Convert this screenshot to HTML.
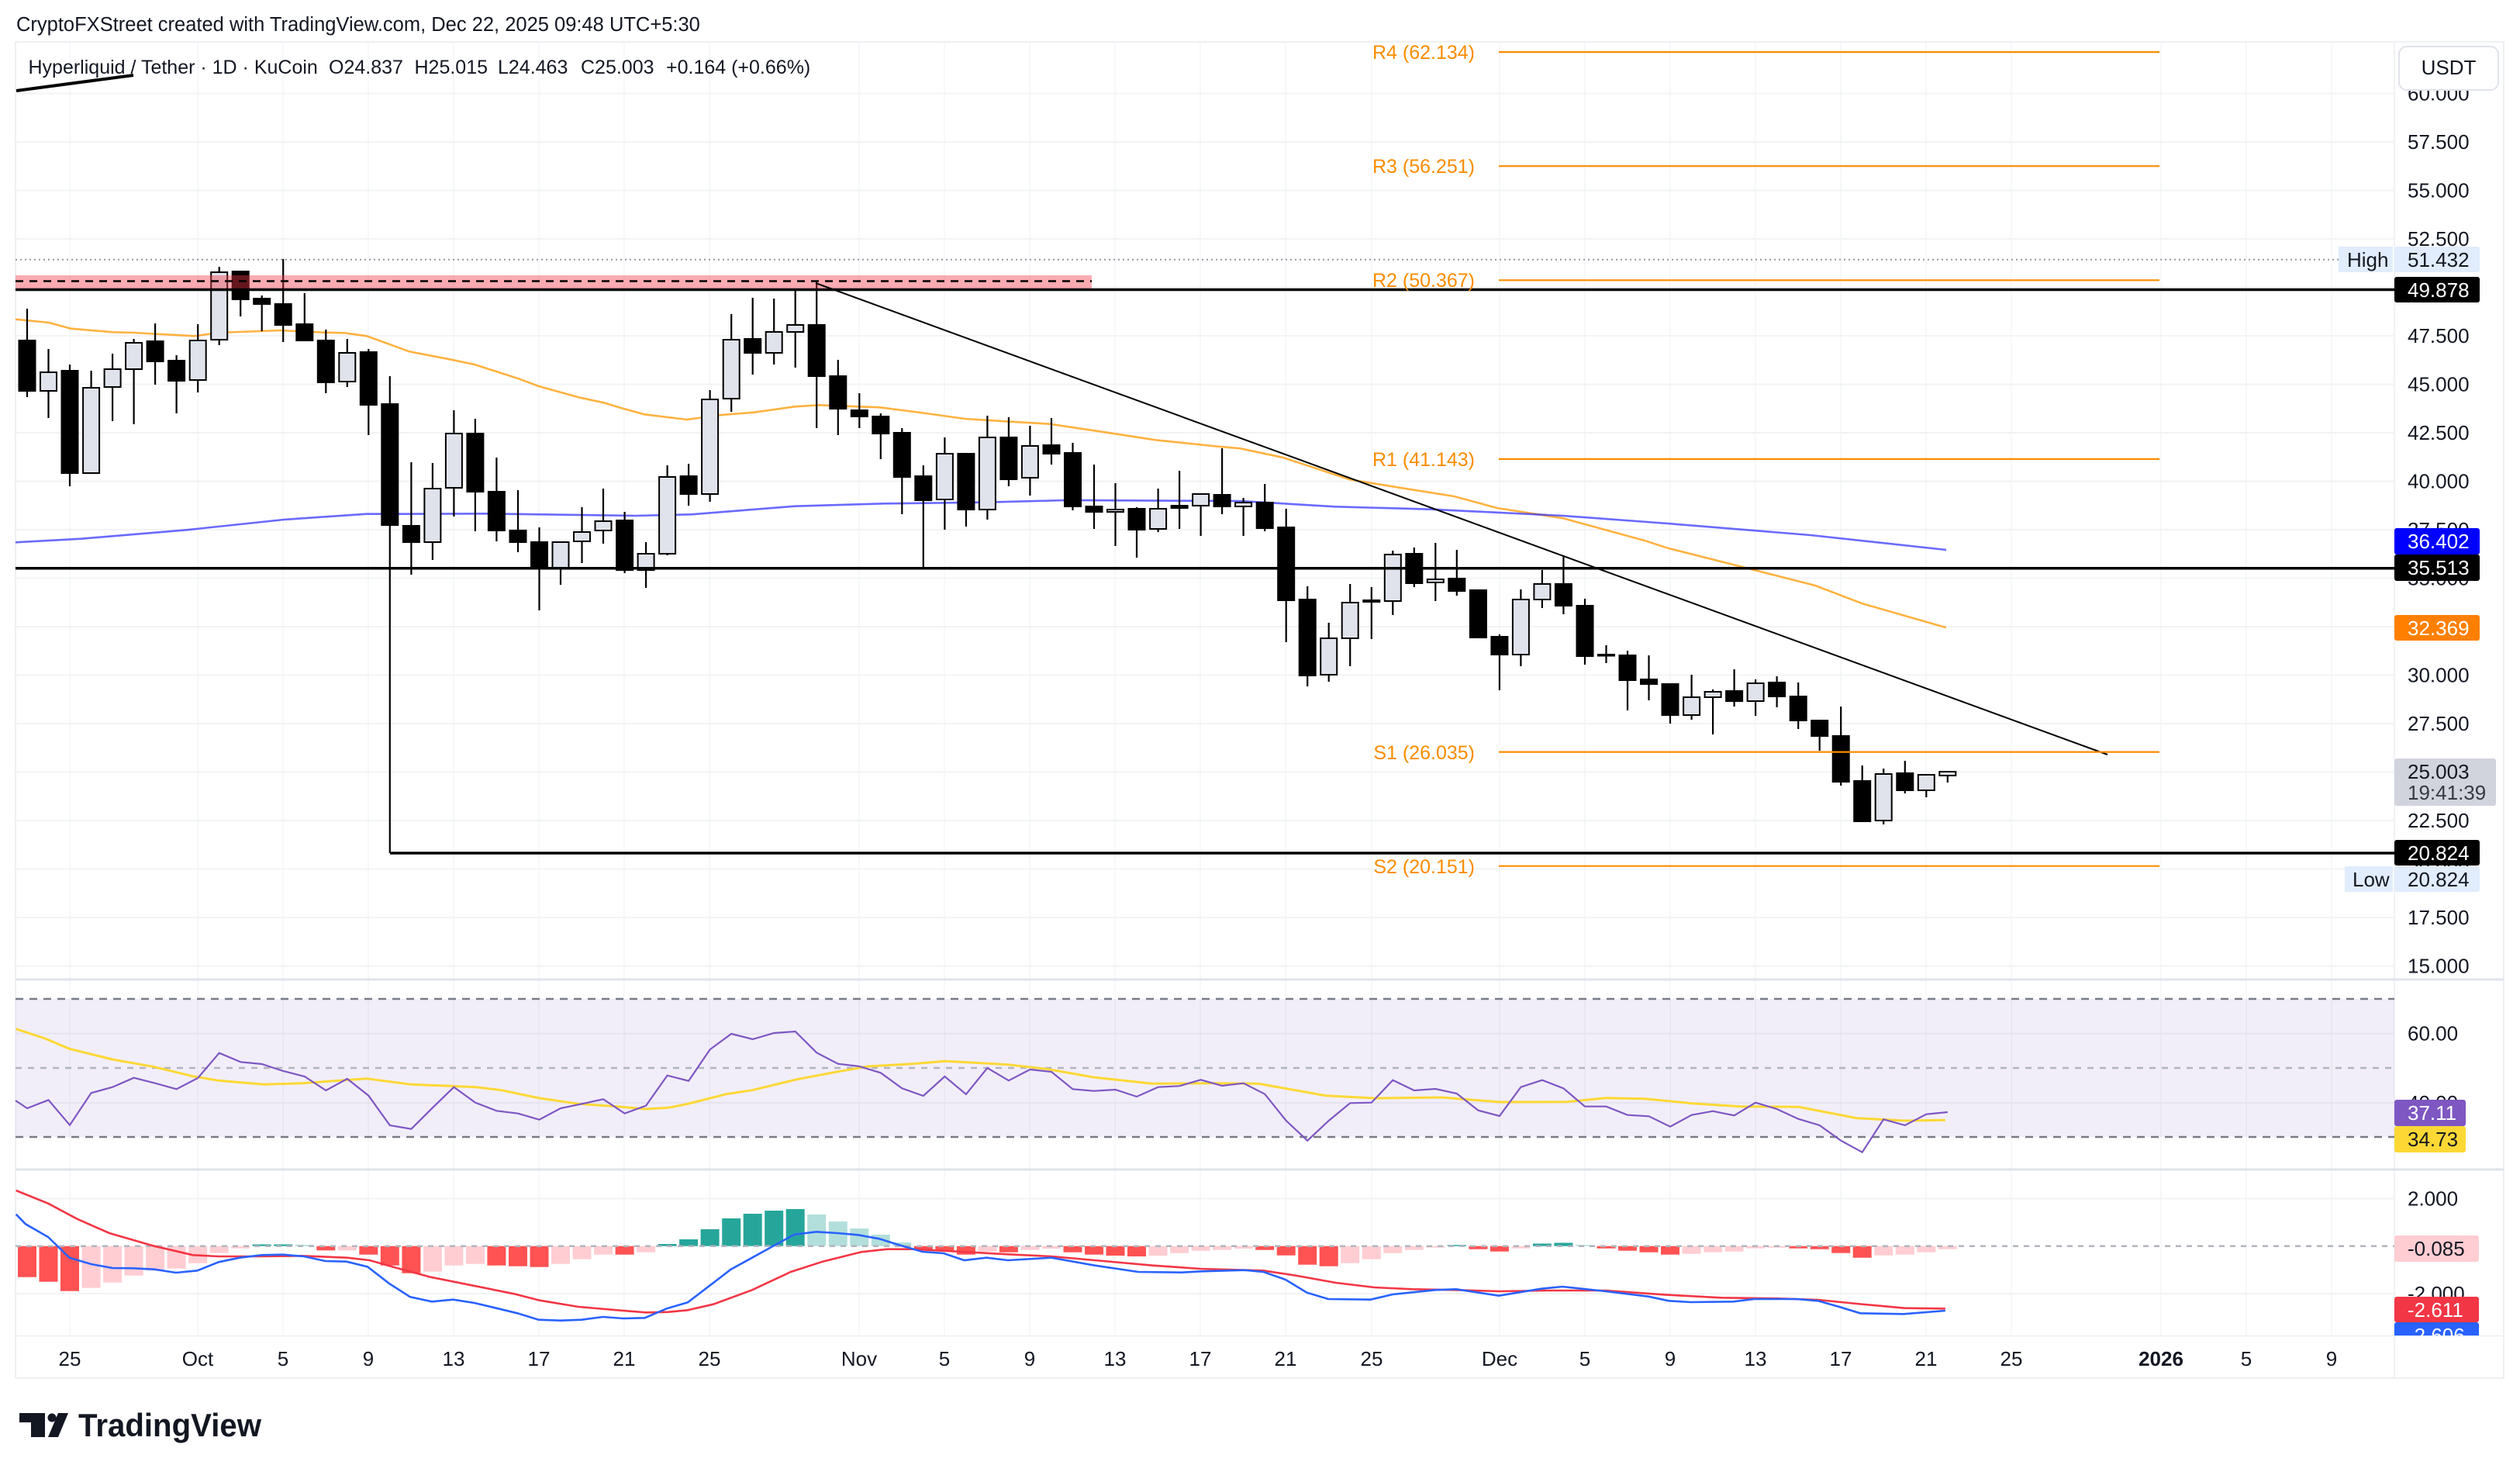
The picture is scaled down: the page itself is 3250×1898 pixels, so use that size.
<!DOCTYPE html>
<html><head><meta charset="utf-8"><style>
html,body{margin:0;padding:0;background:#fff;}
svg{display:block;}
text{font-family:"Liberation Sans",Arial,sans-serif;}
</style></head><body>
<svg width="3250" height="1898" viewBox="0 0 3250 1898" xmlns="http://www.w3.org/2000/svg">
<rect x="0" y="0" width="3250" height="1898" fill="#fff"/>
<!-- header -->
<text x="21" y="40" font-size="25.5" fill="#131722">CryptoFXStreet created with TradingView.com, Dec 22, 2025 09:48 UTC+5:30</text>
<!-- frame -->
<rect x="20" y="54" width="3209" height="1723" fill="none" stroke="#eef0f3" stroke-width="2"/>
<!-- vertical grid -->
<g stroke="#f4f5f7" stroke-width="1.5">
<path d="M90 55V1722M255 55V1722M365 55V1722M475 55V1722M585 55V1722M695 55V1722M805 55V1722M915 55V1722M1108 55V1722M1218 55V1722M1328 55V1722M1438 55V1722M1548 55V1722M1658 55V1722M1769 55V1722M1934 55V1722M2044 55V1722M2154 55V1722M2264 55V1722M2374 55V1722M2484 55V1722M2594 55V1722M2787 55V1722M2897 55V1722M3007 55V1722"/>
</g>
<!-- horizontal grid main -->
<g stroke="#f2f3f5" stroke-width="2">
<path d="M20 120.5H3088M20 183H3088M20 245.5H3088M20 308H3088M20 370.5H3088M20 433H3088M20 495.5H3088M20 558H3088M20 620.5H3088M20 683H3088M20 745.5H3088M20 808H3088M20 870.5H3088M20 933H3088M20 995.5H3088M20 1058H3088M20 1120.5H3088M20 1183H3088M20 1245.5H3088"/>
<path d="M20 1332.7H3088M20 1422H3088M20 1545.5H3088M20 1668H3088"/>
</g>
<!-- axis separators -->
<path d="M3088 54V1777" stroke="#f0f2f5" stroke-width="2"/>
<path d="M20 1722.5H3229" stroke="#f0f2f5" stroke-width="2"/>
<path d="M20 1263H3229M20 1508H3229" stroke="#e0e3eb" stroke-width="3"/>

<!-- legend -->
<g font-size="25" fill="#131722">
<text x="36.5" y="95">Hyperliquid / Tether · 1D · KuCoin</text>
<text x="424" y="95">O24.837</text>
<text x="534.5" y="95">H25.015</text>
<text x="642" y="95">L24.463</text>
<text x="749" y="95">C25.003</text>
<text x="859" y="95">+0.164 (+0.66%)</text>
</g>
<path d="M21 117L172 97" stroke="#000" stroke-width="4"/>

<!-- moving averages -->
<polyline fill="none" stroke="#ff9800" stroke-opacity="0.75" stroke-width="2.6" points="20,411.7 63,416 91.5,423.7 146,428.3 172.6,429 251,433.3 282,429 361,426 418,428.7 444.5,429.3 473,433.3 528,453.3 580,463.3 612,470 669,488.3 695.6,498.3 748,512.7 779,519.3 800,525.7 831,534.3 886,541 931,535 972.6,531.7 1025,524.3 1056,522.3 1135,525.3 1187,532 1244.6,540 1297,543.3 1354,546.7 1427.6,557.7 1490,567.3 1563.5,575 1600,578.3 1655,590 1741,618.3 1802,628.3 1875.5,640 1930.6,655 2016,668.3 2120,696.7 2151,706.7 2243,730 2341,755 2402,778.3 2510,809.3"/>
<polyline fill="none" stroke="#1a1aff" stroke-opacity="0.65" stroke-width="2.6" points="20,699.3 104.6,694.7 240.6,683.3 366,670 473,662.7 523,662.7 627.6,662.3 820,665 891.5,663.3 1025,652.7 1140,649.3 1270.7,647.7 1375,645 1600,646 1722,653.3 1845,656.7 2016,665 2151,675 2335,690 2510,709"/>

<!-- High dotted -->
<path d="M20 334.7H3016" stroke="#9598a1" stroke-width="2" stroke-dasharray="2 4"/>

<!-- candle wicks -->
<g stroke="#000" stroke-width="2.2">
<path d="M35 398V512M62.5 450V539M90 470V627M117.6 478V610M145.1 456V543M172.6 437V547M200.1 417V496M227.6 458V533M255.2 418V506M282.7 344V445M310.2 349V408M337.7 381V427M365.2 334V441M392.8 378V439M420.3 425V507M447.8 437V499M475.3 450V561M502.8 485V1100M530.4 596V741M557.9 597V722M585.4 529V666M612.9 540V685M640.4 590V698M668 632V712M695.5 680V787M723 698V754M750.5 654V726M778 630V701M805.6 660V739"/>
<path d="M833.1 699V758M860.6 600V716M888.1 598V652M915.6 503V647M943.2 405V531M970.7 384V483M998.2 385V470M1025.7 375V474M1053.2 363V552M1080.8 464V561M1108.3 507V552M1135.8 533V592M1163.3 552V663M1190.8 600V733M1218.4 564V683M1245.9 585V679M1273.4 536V670M1300.9 538V627M1328.4 549V639M1356 539V599M1383.5 571V658M1411 599V682M1438.5 623V704M1466 654V719M1493.6 630V686M1521.1 607V682M1548.6 637V691M1576.1 578V663M1603.6 642V691"/>
<path d="M1631.2 624V685M1658.7 656V828M1686.2 756V885M1713.7 803V879M1741.2 753V859M1768.8 757V824M1796.3 710V793M1823.8 706V757M1851.3 700V775M1878.8 709V768M1906.4 761V823M1933.9 818V890M1961.4 760V859M1988.9 735V784M2016.4 716V792M2044 772V857M2071.5 832V855M2099 839V916M2126.5 845V903M2154 881V933M2181.6 870V928M2209.1 889V947M2236.6 863V911M2264.1 876V923M2291.6 872V912M2319.2 880V940M2346.7 928V968M2374.2 911V1013M2401.7 987V1059M2429.2 991V1063M2456.8 981V1023M2484.3 999V1028M2511.8 995V1009"/>
</g>
<!-- candle bodies -->
<g stroke="#000" stroke-width="2">
<rect x="24.5" y="439" width="21" height="65" fill="#000"/>
<rect x="52" y="480" width="21" height="24" fill="#e0e3eb"/>
<rect x="79.5" y="478" width="21" height="132" fill="#000"/>
<rect x="107.1" y="500" width="21" height="110" fill="#e0e3eb"/>
<rect x="134.6" y="476" width="21" height="23" fill="#e0e3eb"/>
<rect x="162.1" y="442" width="21" height="34" fill="#e0e3eb"/>
<rect x="189.6" y="440" width="21" height="26" fill="#000"/>
<rect x="217.1" y="465" width="21" height="26" fill="#000"/>
<rect x="244.7" y="439" width="21" height="51" fill="#e0e3eb"/>
<rect x="272.2" y="351" width="21" height="87" fill="#e0e3eb"/>
<rect x="299.7" y="350" width="21" height="36" fill="#000"/>
<rect x="327.2" y="385" width="21" height="7" fill="#000"/>
<rect x="354.7" y="392" width="21" height="27" fill="#000"/>
<rect x="382.3" y="418" width="21" height="21" fill="#000"/>
<rect x="409.8" y="439" width="21" height="54" fill="#000"/>
<rect x="437.3" y="455" width="21" height="37" fill="#e0e3eb"/>
<rect x="464.8" y="454" width="21" height="68" fill="#000"/>
<rect x="492.3" y="521" width="21" height="156" fill="#000"/>
<rect x="519.9" y="678" width="21" height="21" fill="#000"/>
<rect x="547.4" y="630" width="21" height="69" fill="#e0e3eb"/>
<rect x="574.9" y="559" width="21" height="70" fill="#e0e3eb"/>
<rect x="602.4" y="559" width="21" height="75" fill="#000"/>
<rect x="629.9" y="634" width="21" height="50" fill="#000"/>
<rect x="657.5" y="684" width="21" height="15" fill="#000"/>
<rect x="685" y="699" width="21" height="33" fill="#000"/>
<rect x="712.5" y="699" width="21" height="33" fill="#e0e3eb"/>
<rect x="740" y="686" width="21" height="12" fill="#e0e3eb"/>
<rect x="767.5" y="672" width="21" height="12" fill="#e0e3eb"/>
<rect x="795.1" y="671" width="21" height="64" fill="#000"/>
<rect x="822.6" y="714" width="21" height="21" fill="#e0e3eb"/>
<rect x="850.1" y="615" width="21" height="99" fill="#e0e3eb"/>
<rect x="877.6" y="614" width="21" height="23" fill="#000"/>
<rect x="905.1" y="515" width="21" height="122" fill="#e0e3eb"/>
<rect x="932.7" y="438" width="21" height="76" fill="#e0e3eb"/>
<rect x="960.2" y="437" width="21" height="18" fill="#000"/>
<rect x="987.7" y="428" width="21" height="27" fill="#e0e3eb"/>
<rect x="1015.2" y="419" width="21" height="9" fill="#e0e3eb"/>
<rect x="1042.7" y="419" width="21" height="66" fill="#000"/>
<rect x="1070.3" y="485" width="21" height="42" fill="#000"/>
<rect x="1097.8" y="529" width="21" height="8" fill="#000"/>
<rect x="1125.3" y="537" width="21" height="22" fill="#000"/>
<rect x="1152.8" y="558" width="21" height="57" fill="#000"/>
<rect x="1180.3" y="614" width="21" height="31" fill="#000"/>
<rect x="1207.9" y="585" width="21" height="59" fill="#e0e3eb"/>
<rect x="1235.4" y="585" width="21" height="72" fill="#000"/>
<rect x="1262.9" y="564" width="21" height="93" fill="#e0e3eb"/>
<rect x="1290.4" y="564" width="21" height="54" fill="#000"/>
<rect x="1317.9" y="575" width="21" height="41" fill="#e0e3eb"/>
<rect x="1345.5" y="574" width="21" height="11" fill="#000"/>
<rect x="1373" y="584" width="21" height="69" fill="#000"/>
<rect x="1400.5" y="653" width="21" height="7" fill="#000"/>
<rect x="1428" y="657" width="21" height="3" fill="#e0e3eb"/>
<rect x="1455.5" y="656" width="21" height="27" fill="#000"/>
<rect x="1483.1" y="656" width="21" height="26" fill="#e0e3eb"/>
<rect x="1510.6" y="652" width="21" height="3" fill="#000"/>
<rect x="1538.1" y="637" width="21" height="15" fill="#e0e3eb"/>
<rect x="1565.6" y="638" width="21" height="15" fill="#000"/>
<rect x="1593.1" y="648" width="21" height="5" fill="#e0e3eb"/>
<rect x="1620.7" y="648" width="21" height="33" fill="#000"/>
<rect x="1648.2" y="680" width="21" height="94" fill="#000"/>
<rect x="1675.7" y="773" width="21" height="98" fill="#000"/>
<rect x="1703.2" y="823" width="21" height="47" fill="#e0e3eb"/>
<rect x="1730.7" y="777" width="21" height="46" fill="#e0e3eb"/>
<rect x="1758.3" y="774" width="21" height="2" fill="#000"/>
<rect x="1785.8" y="715" width="21" height="60" fill="#e0e3eb"/>
<rect x="1813.3" y="714" width="21" height="38" fill="#000"/>
<rect x="1840.8" y="747" width="21" height="4" fill="#e0e3eb"/>
<rect x="1868.3" y="746" width="21" height="16" fill="#000"/>
<rect x="1895.9" y="761" width="21" height="61" fill="#000"/>
<rect x="1923.4" y="821" width="21" height="23" fill="#000"/>
<rect x="1950.9" y="773" width="21" height="71" fill="#e0e3eb"/>
<rect x="1978.4" y="753" width="21" height="20" fill="#e0e3eb"/>
<rect x="2005.9" y="753" width="21" height="28" fill="#000"/>
<rect x="2033.5" y="781" width="21" height="65" fill="#000"/>
<rect x="2061" y="844" width="21" height="1.5" fill="#000"/>
<rect x="2088.5" y="845" width="21" height="32" fill="#000"/>
<rect x="2116" y="876" width="21" height="6" fill="#000"/>
<rect x="2143.5" y="882" width="21" height="40" fill="#000"/>
<rect x="2171.1" y="899" width="21" height="23" fill="#e0e3eb"/>
<rect x="2198.6" y="892" width="21" height="7" fill="#e0e3eb"/>
<rect x="2226.1" y="891" width="21" height="13" fill="#000"/>
<rect x="2253.6" y="881" width="21" height="23" fill="#e0e3eb"/>
<rect x="2281.1" y="880" width="21" height="18" fill="#000"/>
<rect x="2308.7" y="898" width="21" height="31" fill="#000"/>
<rect x="2336.2" y="929" width="21" height="20" fill="#000"/>
<rect x="2363.7" y="949" width="21" height="59" fill="#000"/>
<rect x="2391.2" y="1007" width="21" height="52" fill="#000"/>
<rect x="2418.7" y="998" width="21" height="60" fill="#e0e3eb"/>
<rect x="2446.3" y="997" width="21" height="22" fill="#000"/>
<rect x="2473.8" y="999" width="21" height="20" fill="#e0e3eb"/>
<rect x="2501.3" y="995" width="21" height="5" fill="#e0e3eb"/>
</g>

<!-- pink zone -->
<rect x="20" y="355" width="1388" height="17" fill="rgb(242,54,69)" fill-opacity="0.42"/>
<path d="M20 362.5H1408" stroke="#000" stroke-width="2.5" stroke-dasharray="10 8"/>
<!-- drawn horizontal lines -->
<path d="M20 373.5H3088" stroke="#000" stroke-width="3.5"/>
<path d="M20 732.7H3088" stroke="#000" stroke-width="3.5"/>
<path d="M503 1100H3088" stroke="#000" stroke-width="3.5"/>
<!-- trendline -->
<path d="M1052 365L2718 973" stroke="#000" stroke-width="2"/>

<!-- pivots -->
<g stroke="#fb8c00" stroke-width="2.2">
<path d="M1933 67.1H2785M1933 214.2H2785M1933 361.3H2785M1933 591.9H2785M1933 969.6H2785M1933 1116.7H2785"/>
</g>
<g font-size="25" fill="#fb8c00" text-anchor="end">
<text x="1902" y="76">R4 (62.134)</text>
<text x="1902" y="223">R3 (56.251)</text>
<text x="1902" y="370">R2 (50.367)</text>
<text x="1902" y="601">R1 (41.143)</text>
<text x="1902" y="979">S1 (26.035)</text>
<text x="1902" y="1126">S2 (20.151)</text>
</g>

<!-- RSI panel -->
<rect x="20" y="1288" width="3068" height="178" fill="#7e57c2" fill-opacity="0.1"/>
<path d="M20 1288H3088M20 1466H3088" stroke="#787b86" stroke-width="2.5" stroke-dasharray="10 8"/>
<path d="M20 1377H3088" stroke="#b2b5be" stroke-width="2.5" stroke-dasharray="8 8"/>
<polyline fill="none" stroke="#fdd835" stroke-width="3" points="20.7,1326.7 58,1339 89.5,1352.3 145,1366 199,1375.7 248.7,1387.7 282,1393.3 340,1398.3 389.6,1396.7 472.5,1390.7 530.6,1398.3 580,1400.3 613.5,1401.7 646.6,1405.7 696,1416 746,1423.3 796,1426.7 833,1430 862,1428.3 887,1423.3 937,1410.7 970,1405.7 1028,1391.7 1077.7,1382.3 1119,1375 1177,1371.7 1218.6,1368.3 1252,1370 1300,1372.7 1349.7,1378.3 1412,1389.3 1486.5,1397.3 1561,1396.7 1623,1397.3 1710,1412.7 1772.6,1416 1859.6,1415 1934,1421 2021,1420.7 2071,1415.7 2120.8,1416.7 2183,1422.7 2245,1426.7 2320,1427.3 2394.4,1441.7 2456.5,1445 2508.8,1444.3"/>
<polyline fill="none" stroke="#7e57c2" stroke-width="2.2" points="20,1419 35,1429 62.5,1418.3 90,1450.7 117.6,1409.3 145.1,1401.7 172.6,1389.7 200.1,1396.7 227.6,1404.3 255.2,1390 282.7,1357.7 310.2,1369.3 337.7,1372 365.2,1381 392.8,1388 420.3,1406 447.8,1391 475.3,1412.7 502.8,1451 530.4,1455.7 557.9,1428.3 585.4,1401.7 612.9,1421.7 640.4,1432.3 668,1435.7 695.5,1443.7 723,1429 750.5,1423.3 778,1417.3 805.6,1435.7 833.1,1425.7 860.6,1386.7 888.1,1393.7 915.6,1353.3 943.2,1333 970.7,1340 998.2,1332 1025.7,1330 1053.2,1357.3 1080.8,1371.7 1108.3,1375 1135.8,1383.3 1163.3,1403.3 1190.8,1413 1218.4,1388 1245.9,1411 1273.4,1377 1300.9,1393.3 1328.4,1379 1356,1382 1383.5,1404.3 1411,1406.7 1438.5,1405 1466,1414 1493.6,1401.7 1521.1,1400.3 1548.6,1392.3 1576.1,1400 1603.6,1396.7 1631.2,1410.7 1658.7,1445 1686.2,1470.7 1713.7,1445 1741.2,1422.3 1768.8,1421.7 1796.3,1392.7 1823.8,1406 1851.3,1404 1878.8,1410 1906.4,1431.7 1933.9,1439 1961.4,1401.7 1988.9,1392.7 2016.4,1403.3 2044,1426.7 2071.5,1426.7 2099,1437.7 2126.5,1439.3 2154,1452.7 2181.6,1437.7 2209.1,1432.7 2236.6,1438.3 2264.1,1421.7 2291.6,1430 2319.2,1442.7 2346.7,1451 2374.2,1470.7 2401.7,1485.7 2429.2,1443.3 2456.8,1451 2484.3,1436.7 2511.8,1434"/>

<!-- MACD histogram -->
<g>
<rect x="23" y="1606.7" width="24" height="40" fill="#ff5252"/>
<rect x="50.5" y="1606.7" width="24" height="46" fill="#ff5252"/>
<rect x="78" y="1606.7" width="24" height="58" fill="#ff5252"/>
<rect x="105.6" y="1606.7" width="24" height="54" fill="#ffcdd2"/>
<rect x="133.1" y="1606.7" width="24" height="47" fill="#ffcdd2"/>
<rect x="160.6" y="1606.7" width="24" height="38" fill="#ffcdd2"/>
<rect x="188.1" y="1606.7" width="24" height="31.6" fill="#ffcdd2"/>
<rect x="215.6" y="1606.7" width="24" height="29" fill="#ffcdd2"/>
<rect x="243.2" y="1606.7" width="24" height="22" fill="#ffcdd2"/>
<rect x="270.7" y="1606.7" width="24" height="9" fill="#ffcdd2"/>
<rect x="298.2" y="1606.7" width="24" height="3" fill="#ffcdd2"/>
<rect x="325.7" y="1604.5" width="24" height="2.2" fill="#26a69a"/>
<rect x="353.2" y="1604.5" width="24" height="2.2" fill="#26a69a"/>
<rect x="380.8" y="1605" width="24" height="1.7" fill="#b2dfdb"/>
<rect x="408.3" y="1606.7" width="24" height="5.6" fill="#ff5252"/>
<rect x="435.8" y="1606.7" width="24" height="5.6" fill="#ffcdd2"/>
<rect x="463.3" y="1606.7" width="24" height="11" fill="#ff5252"/>
<rect x="490.8" y="1606.7" width="24" height="25" fill="#ff5252"/>
<rect x="518.4" y="1606.7" width="24" height="35" fill="#ff5252"/>
<rect x="545.9" y="1606.7" width="24" height="33" fill="#ffcdd2"/>
<rect x="573.4" y="1606.7" width="24" height="25" fill="#ffcdd2"/>
<rect x="600.9" y="1606.7" width="24" height="23" fill="#ffcdd2"/>
<rect x="628.4" y="1606.7" width="24" height="25" fill="#ff5252"/>
<rect x="656" y="1606.7" width="24" height="26" fill="#ff5252"/>
<rect x="683.5" y="1606.7" width="24" height="27" fill="#ff5252"/>
<rect x="711" y="1606.7" width="24" height="23" fill="#ffcdd2"/>
<rect x="738.5" y="1606.7" width="24" height="17" fill="#ffcdd2"/>
<rect x="766" y="1606.7" width="24" height="11" fill="#ffcdd2"/>
<rect x="793.6" y="1606.7" width="24" height="11" fill="#ff5252"/>
<rect x="821.1" y="1606.7" width="24" height="8" fill="#ffcdd2"/>
<rect x="848.6" y="1604" width="24" height="2.7" fill="#26a69a"/>
<rect x="876.1" y="1598" width="24" height="8.7" fill="#26a69a"/>
<rect x="903.6" y="1585" width="24" height="21.7" fill="#26a69a"/>
<rect x="931.2" y="1571" width="24" height="35.7" fill="#26a69a"/>
<rect x="958.7" y="1565" width="24" height="41.7" fill="#26a69a"/>
<rect x="986.2" y="1561" width="24" height="45.7" fill="#26a69a"/>
<rect x="1013.7" y="1559" width="24" height="47.7" fill="#26a69a"/>
<rect x="1041.2" y="1566" width="24" height="40.7" fill="#b2dfdb"/>
<rect x="1068.8" y="1575" width="24" height="31.7" fill="#b2dfdb"/>
<rect x="1096.3" y="1584" width="24" height="22.7" fill="#b2dfdb"/>
<rect x="1123.8" y="1592" width="24" height="14.7" fill="#b2dfdb"/>
<rect x="1151.3" y="1602" width="24" height="4.7" fill="#b2dfdb"/>
<rect x="1178.8" y="1606.7" width="24" height="5" fill="#ff5252"/>
<rect x="1206.4" y="1606.7" width="24" height="6" fill="#ff5252"/>
<rect x="1233.9" y="1606.7" width="24" height="11" fill="#ff5252"/>
<rect x="1261.4" y="1606.7" width="24" height="7" fill="#ffcdd2"/>
<rect x="1288.9" y="1606.7" width="24" height="8" fill="#ff5252"/>
<rect x="1316.4" y="1606.7" width="24" height="5" fill="#ffcdd2"/>
<rect x="1344" y="1606.7" width="24" height="3.3" fill="#ffcdd2"/>
<rect x="1371.5" y="1606.7" width="24" height="8" fill="#ff5252"/>
<rect x="1399" y="1606.7" width="24" height="11" fill="#ff5252"/>
<rect x="1426.5" y="1606.7" width="24" height="12.3" fill="#ff5252"/>
<rect x="1454" y="1606.7" width="24" height="13.3" fill="#ff5252"/>
<rect x="1481.6" y="1606.7" width="24" height="12.3" fill="#ffcdd2"/>
<rect x="1509.1" y="1606.7" width="24" height="9" fill="#ffcdd2"/>
<rect x="1536.6" y="1606.7" width="24" height="6" fill="#ffcdd2"/>
<rect x="1564.1" y="1606.7" width="24" height="5" fill="#ffcdd2"/>
<rect x="1591.6" y="1606.7" width="24" height="3.3" fill="#ffcdd2"/>
<rect x="1619.2" y="1606.7" width="24" height="5" fill="#ff5252"/>
<rect x="1646.7" y="1606.7" width="24" height="12" fill="#ff5252"/>
<rect x="1674.2" y="1606.7" width="24" height="24" fill="#ff5252"/>
<rect x="1701.7" y="1606.7" width="24" height="26" fill="#ff5252"/>
<rect x="1729.2" y="1606.7" width="24" height="22" fill="#ffcdd2"/>
<rect x="1756.8" y="1606.7" width="24" height="17" fill="#ffcdd2"/>
<rect x="1784.3" y="1606.7" width="24" height="9" fill="#ffcdd2"/>
<rect x="1811.8" y="1606.7" width="24" height="5" fill="#ffcdd2"/>
<rect x="1839.3" y="1606.7" width="24" height="2" fill="#ffcdd2"/>
<rect x="1866.8" y="1605.2" width="24" height="1.5" fill="#26a69a"/>
<rect x="1894.4" y="1606.7" width="24" height="4" fill="#ff5252"/>
<rect x="1921.9" y="1606.7" width="24" height="7" fill="#ff5252"/>
<rect x="1949.4" y="1606.7" width="24" height="3" fill="#ffcdd2"/>
<rect x="1976.9" y="1603.5" width="24" height="3.2" fill="#26a69a"/>
<rect x="2004.4" y="1602.5" width="24" height="4.2" fill="#26a69a"/>
<rect x="2032" y="1605.2" width="24" height="1.5" fill="#b2dfdb"/>
<rect x="2059.5" y="1606.7" width="24" height="3" fill="#ff5252"/>
<rect x="2087" y="1606.7" width="24" height="6" fill="#ff5252"/>
<rect x="2114.5" y="1606.7" width="24" height="8" fill="#ff5252"/>
<rect x="2142" y="1606.7" width="24" height="11" fill="#ff5252"/>
<rect x="2169.6" y="1606.7" width="24" height="10" fill="#ffcdd2"/>
<rect x="2197.1" y="1606.7" width="24" height="8" fill="#ffcdd2"/>
<rect x="2224.6" y="1606.7" width="24" height="7" fill="#ffcdd2"/>
<rect x="2252.1" y="1606.7" width="24" height="3" fill="#ffcdd2"/>
<rect x="2279.6" y="1606.7" width="24" height="2" fill="#ffcdd2"/>
<rect x="2307.2" y="1606.7" width="24" height="3" fill="#ff5252"/>
<rect x="2334.7" y="1606.7" width="24" height="4" fill="#ff5252"/>
<rect x="2362.2" y="1606.7" width="24" height="9" fill="#ff5252"/>
<rect x="2389.7" y="1606.7" width="24" height="15" fill="#ff5252"/>
<rect x="2417.2" y="1606.7" width="24" height="12" fill="#ffcdd2"/>
<rect x="2444.8" y="1606.7" width="24" height="11" fill="#ffcdd2"/>
<rect x="2472.3" y="1606.7" width="24" height="8" fill="#ffcdd2"/>
<rect x="2499.8" y="1606.7" width="24" height="4" fill="#ffcdd2"/>
</g>
<path d="M20 1606.7H3088" stroke="#b2b5be" stroke-width="2.5" stroke-dasharray="7 7"/>
<polyline fill="none" stroke="#f23645" stroke-width="2.6" points="20.7,1535 62,1551.7 99.5,1571.7 141,1590 199,1606.7 248.7,1618.3 282,1620 331.6,1620 389.6,1619.3 447.7,1621.7 476.7,1625 505.7,1633.3 555.4,1646.7 613.5,1658.3 663,1668.3 696,1676.7 746,1685 796,1689.3 833,1692.3 862,1691.7 887,1689.3 920,1681.7 970,1663.3 1019.7,1640 1061,1626.7 1110.9,1614.3 1144,1610.7 1177,1610.7 1227,1613.3 1300,1617.3 1356,1620 1412,1625 1486.5,1631.7 1548.7,1636 1629.6,1638.3 1673,1645 1722.8,1654 1772.6,1660 1822,1662.3 1878,1663.3 1934,1665 1996,1664 2071,1664 2145.6,1669.3 2220,1673.3 2295,1674.3 2344.6,1676 2394.4,1681 2456.5,1686.7 2508.8,1687.3"/>
<polyline fill="none" stroke="#2962ff" stroke-width="2.6" points="20.7,1565.7 33,1578.3 62,1595 89.5,1621.7 117.7,1630 145,1635 171.6,1635.3 199,1636.7 227,1641 254.5,1638.3 282,1627.3 309,1621.7 337,1618.3 364.8,1617.7 392,1620 419.5,1626 446.8,1626.7 474,1633.3 502,1655 529,1672.3 557,1678.3 584.4,1675.7 611.8,1680 640,1686.7 667.3,1693.3 694.7,1701.7 723,1702.7 750,1701.7 777.6,1698 804,1700 831.5,1699.3 859.7,1687.3 887,1679.3 914,1658.7 942.6,1636.7 970,1621.7 997,1606.7 1024.6,1591.7 1052.8,1588.3 1080,1590 1106.7,1592.3 1134,1597.3 1162,1606 1189.6,1614 1217,1616 1243.5,1625 1272.5,1621.7 1300,1625 1356,1621.7 1412,1631.7 1468,1640 1524,1640.7 1548.7,1639.3 1604.7,1637.7 1629.6,1640 1658,1650 1685.5,1666.7 1713,1675 1767.6,1675.7 1796,1669 1851,1663.3 1878,1662.3 1933,1670.7 1987.7,1661.7 2015,1659 2071,1665 2125.8,1671.7 2152,1677.3 2180.5,1679 2235,1678.3 2262.5,1675 2317,1675 2344.6,1677.3 2372,1685 2399,1693.3 2455,1694.3 2508.8,1690"/>

<!-- right price axis labels -->
<g font-size="26" fill="#131722">
<text x="3105" y="129.5">60.000</text>
<text x="3105" y="192">57.500</text>
<text x="3105" y="254.5">55.000</text>
<text x="3105" y="317">52.500</text>
<text x="3105" y="379.5">50.000</text>
<text x="3105" y="442">47.500</text>
<text x="3105" y="504.5">45.000</text>
<text x="3105" y="567">42.500</text>
<text x="3105" y="629.5">40.000</text>
<text x="3105" y="692">37.500</text>
<text x="3105" y="754.5">35.000</text>
<text x="3105" y="817">32.500</text>
<text x="3105" y="879.5">30.000</text>
<text x="3105" y="942">27.500</text>
<text x="3105" y="1004.5">25.000</text>
<text x="3105" y="1067">22.500</text>
<text x="3105" y="1129.5">20.000</text>
<text x="3105" y="1192">17.500</text>
<text x="3105" y="1254.5">15.000</text>
<text x="3105" y="1341.7">60.00</text>
<text x="3105" y="1431">40.00</text>
<text x="3105" y="1554.5">2.000</text>
<text x="3105" y="1677">-2.000</text>
</g>
<!-- USDT box -->
<rect x="3094" y="60" width="128" height="56" rx="10" fill="#fff" stroke="#e0e3eb" stroke-width="2"/>
<text x="3158" y="96" font-size="26" fill="#131722" text-anchor="middle">USDT</text>

<!-- price label boxes -->
<rect x="3016" y="318" width="70" height="33" fill="#e1ecfc"/>
<text x="3027" y="344" font-size="26" fill="#131722">High</text>
<rect x="3088" y="318" width="110" height="33" rx="3" fill="#e1ecfc"/>
<text x="3105" y="344" font-size="26" fill="#131722">51.432</text>
<rect x="3088" y="357" width="110" height="33" rx="3" fill="#000"/>
<text x="3105" y="383" font-size="26" fill="#fff">49.878</text>
<rect x="3088" y="681" width="110" height="34" rx="3" fill="#0000ff"/>
<text x="3105" y="707" font-size="26" fill="#fff">36.402</text>
<rect x="3088" y="715" width="110" height="34" rx="3" fill="#000"/>
<text x="3105" y="741" font-size="26" fill="#fff">35.513</text>
<rect x="3088" y="793" width="110" height="33" rx="3" fill="#ff8000"/>
<text x="3105" y="819" font-size="26" fill="#fff">32.369</text>
<rect x="3088" y="978" width="131" height="61" rx="3" fill="#d1d4dc"/>
<text x="3105" y="1004" font-size="26" fill="#131722">25.003</text>
<text x="3105" y="1031" font-size="26" fill="#363a45">19:41:39</text>
<rect x="3088" y="1083" width="110" height="33" rx="3" fill="#000"/>
<text x="3105" y="1109" font-size="26" fill="#fff">20.824</text>
<rect x="3024" y="1117" width="62" height="33" fill="#e1ecfc"/>
<text x="3034" y="1143" font-size="26" fill="#131722">Low</text>
<rect x="3088" y="1117" width="110" height="33" rx="3" fill="#e1ecfc"/>
<text x="3105" y="1143" font-size="26" fill="#131722">20.824</text>

<!-- RSI labels -->
<rect x="3088" y="1418" width="92" height="34" rx="3" fill="#7e57c2"/>
<text x="3105" y="1444" font-size="26" fill="#fff">37.11</text>
<rect x="3088" y="1452" width="92" height="34" rx="3" fill="#fdd835"/>
<text x="3105" y="1478" font-size="26" fill="#131722">34.73</text>
<!-- MACD labels -->
<rect x="3088" y="1593" width="109" height="34" rx="3" fill="#ffcdd2"/>
<text x="3105" y="1619" font-size="26" fill="#131722">-0.085</text>
<rect x="3088" y="1672" width="109" height="33" rx="3" fill="#f23645"/>
<text x="3105" y="1698" font-size="26" fill="#fff">-2.611</text>
<svg x="3088" y="1705" width="109" height="17" overflow="hidden">
<rect x="0" y="0" width="109" height="33" rx="3" fill="#2962ff"/>
<text x="17" y="26" font-size="26" fill="#fff">-2.606</text>
</svg>

<!-- x axis labels -->
<g font-size="26" fill="#131722" text-anchor="middle">
<text x="90" y="1761">25</text>
<text x="255" y="1761">Oct</text>
<text x="365" y="1761">5</text>
<text x="475" y="1761">9</text>
<text x="585" y="1761">13</text>
<text x="695" y="1761">17</text>
<text x="805" y="1761">21</text>
<text x="915" y="1761">25</text>
<text x="1108" y="1761">Nov</text>
<text x="1218" y="1761">5</text>
<text x="1328" y="1761">9</text>
<text x="1438" y="1761">13</text>
<text x="1548" y="1761">17</text>
<text x="1658" y="1761">21</text>
<text x="1769" y="1761">25</text>
<text x="1934" y="1761">Dec</text>
<text x="2044" y="1761">5</text>
<text x="2154" y="1761">9</text>
<text x="2264" y="1761">13</text>
<text x="2374" y="1761">17</text>
<text x="2484" y="1761">21</text>
<text x="2594" y="1761">25</text>
<text x="2787" y="1761" font-weight="bold">2026</text>
<text x="2897" y="1761">5</text>
<text x="3007" y="1761">9</text>
</g>

<!-- logo -->
<g fill="#131722">
<path d="M25 1822H58V1853H40V1834H25Z"/>
<circle cx="67" cy="1828" r="5.5"/>
<path d="M75 1822H88L75 1853H62Z"/>
</g>
<text x="101" y="1852" font-size="42" font-weight="bold" fill="#131722" textLength="236" lengthAdjust="spacingAndGlyphs">TradingView</text>
</svg>
</body></html>
